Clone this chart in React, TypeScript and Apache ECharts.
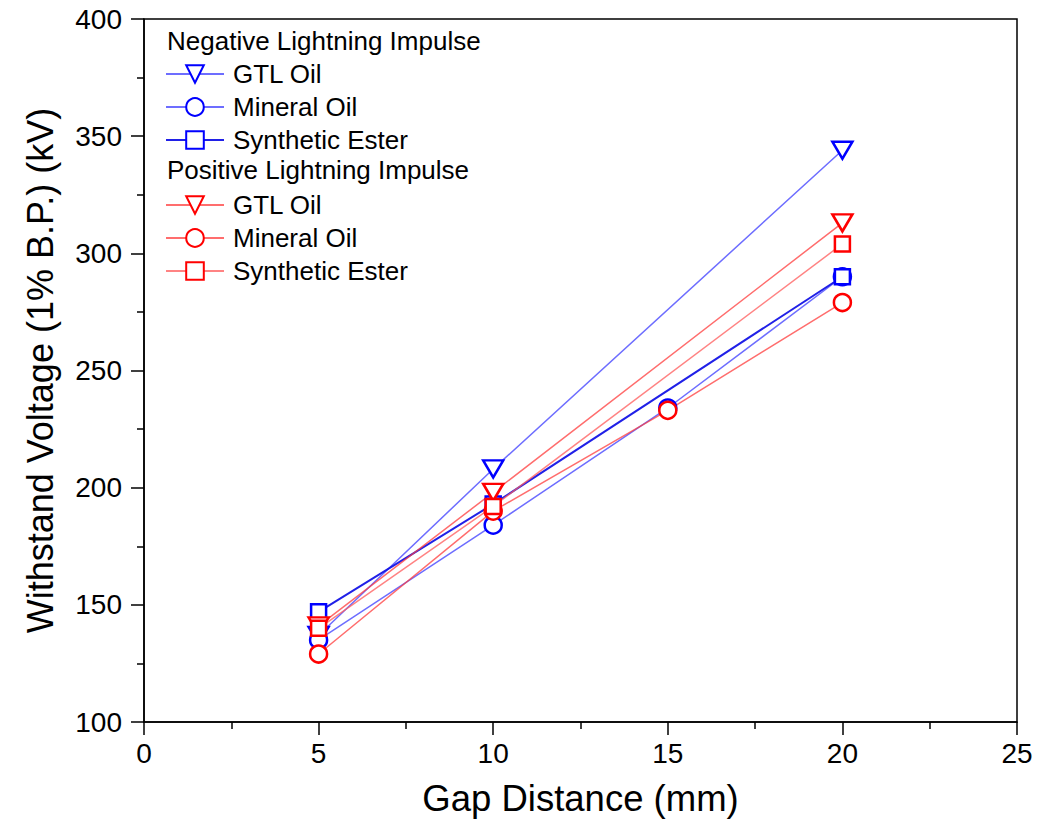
import React, { useEffect, useRef } from "react";
import * as echarts from "echarts";

const xTicks = { min: 0, max: 25, interval: 5 };
const yTicks = { min: 100, max: 400, interval: 50 };

const negGTL: number[][] = [[5, 137], [10, 208], [20, 344]];
const negMineral: number[][] = [[5, 135], [10, 184], [15, 234], [20, 290]];
const negSynthetic: number[][] = [[5, 147], [10, 193], [20, 290]];
const posGTL: number[][] = [[5, 141], [10, 198], [20, 313]];
const posMineral: number[][] = [[5, 129], [10, 190], [15, 233], [20, 279]];
const posSynthetic: number[][] = [[5, 140], [10, 192], [20, 304]];

const groupTitles = ["Negative Lightning Impulse", "Positive Lightning Impulse"];
const seriesNames = ["GTL Oil", "Mineral Oil", "Synthetic Ester"];

const FONT = "'Liberation Sans', Arial, Helvetica, sans-serif";
const TRI_DOWN = "path://M0,0 L20,0 L10,17 Z";

export default function App() {
  const ref = useRef<HTMLDivElement>(null);
  useEffect(() => {
    if (!ref.current) return;
    const chart = echarts.init(ref.current, undefined, { renderer: "svg" });

    const mk = (
      prefix: string,
      name: string,
      data: number[][],
      markColor: string,
      lineColor: string,
      lineWidth: number,
      symbol: string,
      size: any
    ) => ({
      type: "line",
      name: prefix + " " + name,
      data,
      symbol,
      symbolSize: size,
      showAllSymbol: true,
      lineStyle: { color: lineColor, width: lineWidth },
      itemStyle: { color: "#ffffff", borderColor: markColor, borderWidth: 2.5 },
      emphasis: { disabled: true },
      z: 2,
    });

    const blue = "#0000ff";
    const red = "#ff0000";
    const series = [
      mk("Neg", seriesNames[0], negGTL, blue, "rgba(60,60,255,0.75)", 1.5, TRI_DOWN, [20, 17]),
      mk("Neg", seriesNames[1], negMineral, blue, "rgba(60,60,255,0.75)", 1.5, "circle", 17),
      mk("Neg", seriesNames[2], negSynthetic, blue, "rgba(20,20,230,0.95)", 2, "rect", 15),
      mk("Pos", seriesNames[0], posGTL, red, "rgba(255,60,60,0.75)", 1.5, TRI_DOWN, [20, 17]),
      mk("Pos", seriesNames[1], posMineral, red, "rgba(255,60,60,0.75)", 1.5, "circle", 17),
      mk("Pos", seriesNames[2], posSynthetic, red, "rgba(255,90,90,0.75)", 1.5, "rect", 15),
    ];

    const legendBase = {
      orient: "vertical",
      left: 160,
      itemWidth: 58,
      itemHeight: 22,
      itemGap: 7,
      selectedMode: false,
      formatter: (n: string) => n.replace(/^(Neg|Pos) /, ""),
      textStyle: { fontSize: 26, fontFamily: FONT, color: "#000", lineHeight: 25, padding: [0, 0, 0, 4] },
    };

    chart.setOption({
      animation: false,
      backgroundColor: "#ffffff",
      grid: {
        left: 144,
        right: 35,
        top: 19,
        bottom: 99,
        show: true,
        borderColor: "#000",
        borderWidth: 1.5,
      },
      legend: [
        { ...legendBase, top: 56, data: series.slice(0, 3).map((s) => s.name) },
        { ...legendBase, top: 187, data: series.slice(3).map((s) => s.name) },
      ],
      graphic: [
        {
          type: "text",
          left: 167,
          top: 28,
          style: { text: groupTitles[0], fontSize: 26, fontFamily: FONT, fill: "#000" },
        },
        {
          type: "text",
          left: 167,
          top: 157,
          style: { text: groupTitles[1], fontSize: 26, fontFamily: FONT, fill: "#000" },
        },
      ],
      xAxis: {
        type: "value",
        min: xTicks.min,
        max: xTicks.max,
        interval: xTicks.interval,
        name: "Gap Distance (mm)",
        nameLocation: "middle",
        nameGap: 58,
        nameTextStyle: { fontSize: 36.5, fontFamily: FONT, color: "#000" },
        axisLine: { show: true, onZero: false, lineStyle: { color: "#000", width: 1.5 } },
        axisTick: { show: true, inside: false, length: 13, lineStyle: { color: "#000", width: 1.5 } },
        minorTick: { show: true, splitNumber: 2, length: 7, lineStyle: { color: "#000", width: 1.5 } },
        axisLabel: { fontSize: 28, fontFamily: FONT, color: "#000", margin: 17 },
        splitLine: { show: false },
      },
      yAxis: {
        type: "value",
        min: yTicks.min,
        max: yTicks.max,
        interval: yTicks.interval,
        name: "Withstand Voltage (1% B.P.) (kV)",
        nameLocation: "middle",
        nameGap: 86,
        nameTextStyle: { fontSize: 36, fontFamily: FONT, color: "#000" },
        axisLine: { show: true, onZero: false, lineStyle: { color: "#000", width: 1.5 } },
        axisTick: { show: true, inside: false, length: 13, lineStyle: { color: "#000", width: 1.5 } },
        minorTick: { show: true, splitNumber: 2, length: 7, lineStyle: { color: "#000", width: 1.5 } },
        axisLabel: { fontSize: 28, fontFamily: FONT, color: "#000", margin: 22 },
        splitLine: { show: false },
      },
      series,
    });
    return () => chart.dispose();
  }, []);
  return (
    <div
      ref={ref}
      style={{ position: "fixed", left: 0, top: 0, width: 1052, height: 822, background: "#fff" }}
    />
  );
}
